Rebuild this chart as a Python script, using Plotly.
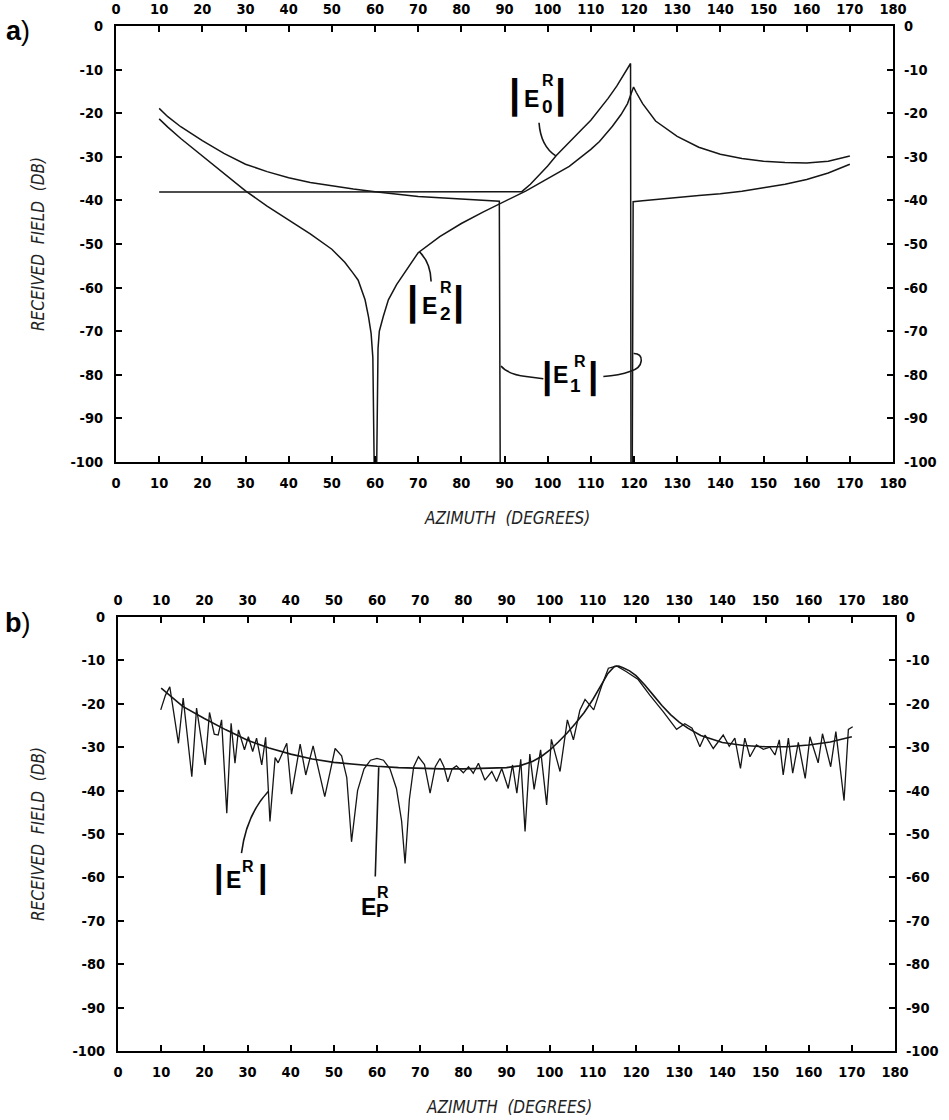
import plotly.graph_objects as go

# ---------------- data: panel a (received field components, dB) ----------------
az_e0 = [10, 30, 50, 70, 90, 94, 96, 98, 100, 102, 104, 106, 108, 110, 112, 114, 116, 118, 119.2, 119.3]
e0 = [-38.1, -38.1, -38.1, -38.1, -38.1, -38.0, -36.3, -34.3, -32.1, -29.7, -27.6, -25.6, -23.6, -21.6,
      -19.2, -16.6, -13.8, -10.6, -8.6, -100]

az_e1_lit = [10, 12, 15, 20, 25, 30, 35, 40, 45, 50, 55, 60, 65, 70, 75, 80, 85, 88.8, 89.0]
e1_lit = [-18.9, -20.8, -23.1, -26.3, -29.2, -31.7, -33.4, -34.8, -35.9, -36.7, -37.4, -38.0, -38.6,
          -39.1, -39.4, -39.7, -40.0, -40.2, -100]
az_e1_back = [119.6, 119.8, 122, 125, 130, 135, 140, 145, 150, 155, 160, 165, 170]
e1_back = [-100, -40.3, -40.1, -39.8, -39.3, -38.9, -38.5, -37.9, -37.1, -36.3, -35.2, -33.7, -31.7]

az_e2 = [10, 12, 15, 20, 25, 30, 35, 40, 45, 50, 53, 55, 56.1, 57.7, 58.5, 59.1, 59.5, 59.8,
         60.4, 60.7, 61.0, 61.9, 63.1, 65, 67, 70, 75, 80, 85, 89, 92, 95, 100, 105, 110, 112,
         115, 117, 118.5, 119.5, 119.9, 120.5, 122, 125, 130, 135, 140, 145, 150, 155, 160, 165, 170]
e2 = [-21.3, -23.2, -25.8, -29.8, -34.0, -37.8, -41.3, -44.5, -47.7, -51.2, -54.2, -56.8, -58.3,
      -62.8, -66.7, -70.5, -76.0, -100, -100, -74.0, -70.0, -66.7, -62.8, -59.3, -56.3, -52.0,
      -48.3, -45.3, -42.7, -40.7, -39.2, -37.8, -35.0, -32.2, -28.3, -26.5, -23.0, -20.3, -17.8,
      -15.0, -14.0, -15.2, -17.8, -21.8, -25.3, -27.8, -29.4, -30.4, -31.0, -31.3, -31.4, -31.0, -29.8]

# ---------------- data: panel b (total field and physical-optics estimate, dB) ----------------
az_ep = [10, 15, 20, 25, 30, 35, 40, 45, 50, 55, 60, 65, 70, 75, 80, 85, 90, 93, 96, 98, 100,
         102, 104, 106, 108, 110, 112, 113.5, 115, 116, 117, 118.5, 120, 122, 124, 126, 128, 130,
         132, 135, 140, 145, 150, 155, 160, 165, 170]
ep = [-16.4, -20.6, -23.4, -26.0, -28.4, -30.2, -31.6, -32.7, -33.5, -34.0, -34.4, -34.7, -34.9,
      -35.0, -35.0, -34.9, -34.7, -34.3, -33.3, -32.2, -30.7, -28.8, -26.8, -24.5, -22.0, -19.0,
      -15.6, -13.0, -11.4, -11.3, -11.7, -12.4, -13.5, -15.6, -18.0, -20.4, -22.5, -24.2, -25.6,
      -27.3, -28.9, -29.6, -29.9, -29.9, -29.5, -28.8, -27.6]

az_er = [9.9, 11.0, 12.0, 14.0, 15.1, 17.1, 18.2, 20.2, 21.2, 22.3, 23.2, 24.0, 25.2, 26.2, 27.1,
         27.9, 29.3, 30.2, 31.2, 32.1, 33.3, 34.2, 35.2, 36.4, 37.1, 39.1, 40.2, 42.2, 43.5, 45.2,
         47.9, 50.3, 51.8, 53.0, 54.1, 55.5, 57.0, 58.5, 60.0, 61.5, 63.0, 64.5, 65.7, 66.5, 67.5,
         68.5, 69.6, 71.0, 72.3, 73.5, 74.6, 75.5, 76.4, 77.4, 78.4, 80.0, 81.2, 82.3, 83.5, 85.0,
         86.6, 87.7, 88.9, 90.4, 91.4, 92.4, 93.3, 94.3, 95.4, 96.4, 97.9, 99.3, 100.4, 102.4,
         104.1, 105.5, 107.0, 108.2, 110.2, 112.0, 113.6, 115.5, 117.8, 120.5, 123.2, 126.3, 129.4,
         131.3, 133.0, 134.8, 136.0, 137.9, 140.2, 141.6, 142.9, 144.2, 145.2, 146.4, 147.9, 149.5,
         151.0, 152.2, 153.2, 154.1, 155.3, 156.3, 157.6, 159.2, 160.3, 162.2, 163.2, 165.1, 166.3,
         168.2, 169.2, 170.2]
er = [-21.4, -18.0, -16.1, -29.1, -18.7, -36.8, -21.0, -34.1, -22.0, -27.0, -27.2, -23.7, -45.2,
      -24.5, -33.7, -26.0, -30.6, -27.6, -31.0, -27.9, -34.1, -27.7, -47.1, -32.4, -33.6, -29.1,
      -40.8, -29.3, -36.4, -29.7, -41.4, -30.3, -32.0, -37.0, -51.8, -40.0, -35.0, -33.0, -32.6,
      -33.0, -35.0, -39.5, -47.0, -56.8, -42.0, -34.5, -32.2, -34.0, -40.6, -34.5, -32.6, -34.5,
      -38.0, -35.0, -34.3, -35.9, -34.5, -36.0, -33.7, -37.6, -35.6, -37.9, -34.9, -39.5, -34.1,
      -40.6, -32.8, -49.4, -31.6, -39.7, -30.6, -43.3, -28.2, -35.6, -23.7, -28.3, -21.5, -19.0,
      -21.4, -16.0, -11.8, -11.3, -12.6, -14.4, -18.0, -21.8, -25.9, -24.6, -25.6, -29.9, -27.2,
      -30.3, -27.2, -29.8, -27.9, -34.9, -27.9, -32.2, -29.5, -30.5, -30.0, -31.8, -28.3, -36.4,
      -27.9, -36.0, -28.9, -37.2, -27.6, -33.6, -26.9, -34.5, -26.4, -42.3, -25.9, -25.3]

# ---------------- axis ticks ----------------
x_ticks = list(range(0, 181, 10))
y_ticks = list(range(-100, 1, 10))
y_tick_text = [str(v) for v in y_ticks]

# ---------------- figure geometry (pixels) ----------------
W, H = 949, 1120
PANEL_A = dict(left=116, right=893, top=26, bottom=462)
PANEL_B = dict(left=118, right=895, top=617, bottom=1051)

INK = "#151515"
TICK_FONT = dict(family="Liberation Sans Narrow, DejaVu Sans Condensed, Arial Narrow, sans-serif",
                 size=14.5, color="black", weight="bold")
TITLE_FONT = dict(family="Liberation Sans Narrow, DejaVu Sans Condensed, sans-serif",
                  size=17, color="#222222")
LABEL_FAMILY = "Liberation Sans, Arial, sans-serif"


def xdom(p):
    return [p["left"] / W, p["right"] / W]


def ydom(p):
    return [1 - p["bottom"] / H, 1 - p["top"] / H]


fig = go.Figure()

line = dict(color=INK, width=1.5)
# panel a
fig.add_trace(go.Scatter(x=az_e0, y=e0, mode="lines", line=line, xaxis="x", yaxis="y"))
fig.add_trace(go.Scatter(x=az_e1_lit + [None] + az_e1_back, y=e1_lit + [None] + e1_back,
                         mode="lines", line=line, connectgaps=False, xaxis="x", yaxis="y"))
fig.add_trace(go.Scatter(x=az_e2, y=e2, mode="lines", line=line, xaxis="x", yaxis="y"))
# panel b
fig.add_trace(go.Scatter(x=az_ep, y=ep, mode="lines", line=dict(color=INK, width=1.6),
                         xaxis="x2", yaxis="y2"))
fig.add_trace(go.Scatter(x=az_er, y=er, mode="lines", line=dict(color=INK, width=1.3),
                         xaxis="x2", yaxis="y2"))
# empty traces that carry the mirrored (top / right) labelled axes
fig.add_trace(go.Scatter(x=[None], y=[None], xaxis="x3", yaxis="y3", hoverinfo="skip"))
fig.add_trace(go.Scatter(x=[None], y=[None], xaxis="x4", yaxis="y4", hoverinfo="skip"))

axis_common = dict(showline=True, linewidth=2, linecolor="black", showgrid=False, zeroline=False,
                   ticks="inside", ticklen=6, tickwidth=1.5, tickcolor="black",
                   tickfont=TICK_FONT, fixedrange=True)
xcommon = dict(axis_common, range=[0, 180], tickmode="array", tickvals=x_ticks,
               ticktext=[str(v) for v in x_ticks])
ycommon = dict(axis_common, range=[-100, 0], tickmode="array", tickvals=y_ticks,
               ticktext=y_tick_text)

fig.update_layout(
    xaxis=dict(xcommon, domain=xdom(PANEL_A), anchor="y", side="bottom", ticklabelstandoff=7),
    yaxis=dict(ycommon, domain=ydom(PANEL_A), anchor="x", side="left", ticklabelstandoff=8),
    xaxis3=dict(xcommon, overlaying="x", anchor="y3", side="top", ticklabelstandoff=4),
    yaxis3=dict(ycommon, overlaying="y", anchor="x3", side="right", ticklabelstandoff=6),
    xaxis2=dict(xcommon, domain=xdom(PANEL_B), anchor="y2", side="bottom", ticklabelstandoff=7),
    yaxis2=dict(ycommon, domain=ydom(PANEL_B), anchor="x2", side="left", ticklabelstandoff=8),
    xaxis4=dict(xcommon, overlaying="x2", anchor="y4", side="top", ticklabelstandoff=4),
    yaxis4=dict(ycommon, overlaying="y2", anchor="x4", side="right", ticklabelstandoff=6),
)

annotations = []


def paper_text(text, px, py, font, angle=0):
    annotations.append(dict(text=text, x=px / W, y=1 - py / H, xref="paper", yref="paper",
                            showarrow=False, xanchor="center", yanchor="middle",
                            textangle=angle, font=font))


# panel tags
for tag, px, py in (("a", 18, 31), ("b", 18, 623)):
    paper_text(f"<b>{tag}</b>)", px, py, dict(family=LABEL_FAMILY, size=27, color="black"))

# axis titles
for p in (PANEL_A, PANEL_B):
    xc = (p["left"] + p["right"]) / 2
    paper_text("<i>AZIMUTH  (DEGREES)</i>", xc + 2, p["bottom"] + 56, TITLE_FONT)
    paper_text("<i>RECEIVED  FIELD  (DB)</i>", 38, (p["top"] + p["bottom"]) / 2, TITLE_FONT, angle=-90)


def label_part(text, xref, yref, x, y, dx, dy, size, bold=True):
    annotations.append(dict(text=f"<b>{text}</b>" if bold else text, x=x, y=y, xref=xref, yref=yref,
                            xshift=dx, yshift=-dy, showarrow=False, xanchor="center",
                            yanchor="middle", borderpad=0,
                            font=dict(family=LABEL_FAMILY, size=size, color="black")))


def field_label(xref, yref, x, y, sub=None, bars=True, bar_size=40, half=23,
                e_off=(-6, 4.5), r_off=(10, -14.5), s_off=(10, 12)):
    if bars:
        label_part("|", xref, yref, x, y, -half, 0, bar_size)
        label_part("|", xref, yref, x, y, half, 0, bar_size)
    label_part("E", xref, yref, x, y, e_off[0], e_off[1], 23)
    label_part("R", xref, yref, x, y, r_off[0], r_off[1], 16)
    if sub:
        label_part(sub, xref, yref, x, y, s_off[0], s_off[1], 19)


field_label("x", "y", 97.75, -15.8, sub="0")
field_label("x", "y", 74.1, -63.3, sub="2")
field_label("x", "y", 105.1, -80.3, sub="1", bar_size=37,
            e_off=(-9, -1), r_off=(10, -14.3), s_off=(6, 9))
field_label("x2", "y2", 28.5, -59.7, bar_size=34, half=22, e_off=(-7.5, 4), r_off=(7, -9.5))
field_label("x2", "y2", 59.5, -65.7, sub="P", bars=False,
            e_off=(-6, 5), r_off=(8, -9.5), s_off=(8, 8))

# leader lines from labels to curves
leaders = [
    ("x", "y", "M 98.0,-22.2 Q 98.4,-27.6 101.9,-29.8"),
    ("x", "y", "M 73.0,-58.6 Q 72.9,-54.3 70.3,-51.8"),
    ("x", "y", "M 89.2,-78.0 Q 90.6,-79.8 95.0,-80.4 L 99.0,-80.9"),
    ("x", "y", "M 112.9,-80.4 Q 116.5,-80.2 119.2,-79.2 C 122.4,-78.2 122.4,-75.0 119.9,-75.1"),
    ("x2", "y2", "M 28.6,-54.4 Q 29.8,-45.5 34.8,-40.2"),
    ("x2", "y2", "M 59.6,-59.8 L 60.4,-34.6"),
]
shapes = [dict(type="path", xref=xr, yref=yr, path=p, line=dict(color=INK, width=1.6))
          for xr, yr, p in leaders]

fig.update_layout(
    width=W, height=H, margin=dict(l=0, r=0, t=0, b=0, autoexpand=False),
    paper_bgcolor="white", plot_bgcolor="white", showlegend=False,
    annotations=annotations, shapes=shapes,
)

fig.write_html("out.html")
